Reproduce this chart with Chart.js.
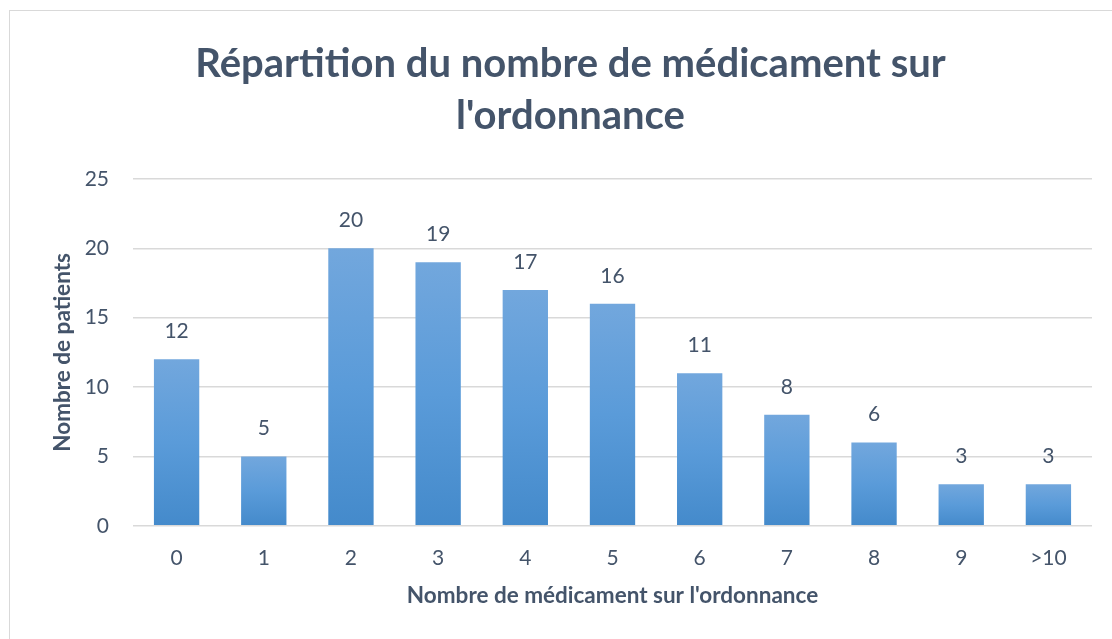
<!DOCTYPE html>
<html>
<head>
<meta charset="utf-8">
<script src="https://cdn.jsdelivr.net/npm/chart.js@4"></script>
<style>
  html, body { margin: 0; padding: 0; background: #fff; overflow: hidden; }
  #wrap { position: relative; width: 1112px; height: 639px; }
  #frame { position: absolute; left: 9px; top: 10px; width: 1120px; height: 700px; border: 1px solid #d9d9d9; box-sizing: border-box; }
  canvas { position: absolute; left: 0; top: 0; }
</style>
</head>
<body>
<div id="wrap">
  <div id="frame"></div>
  <canvas id="chart" width="1112" height="639"></canvas>
</div>
<script>
// chart data
const categories = ['0', '1', '2', '3', '4', '5', '6', '7', '8', '9', '>10'];
const patients = [12, 5, 20, 19, 17, 16, 11, 8, 6, 3, 3];
const yTicks = [0, 5, 10, 15, 20, 25];

const textColor = '#44546a';
const fontFamily = 'Lato, "Open Sans", sans-serif';

// draw the value over each bar
const valueLabels = {
  id: 'valueLabels',
  afterDatasetsDraw(chart) {
    const ctx = chart.ctx;
    const meta = chart.getDatasetMeta(0);
    ctx.save();
    ctx.fillStyle = textColor;
    ctx.font = '21px ' + fontFamily;
    ctx.textAlign = 'center';
    ctx.textBaseline = 'middle';
    meta.data.forEach((bar, i) => {
      ctx.fillText(patients[i], bar.x, bar.y - 28);
    });
    ctx.restore();
  }
};

function barGradient(context) {
  const chart = context.chart;
  const y = chart.scales.y;
  if (!chart.chartArea || !y || context.parsed === undefined) return '#5b9bd5';
  const top = y.getPixelForValue(context.parsed.y);
  const bottom = y.getPixelForValue(0);
  if (!isFinite(top) || !isFinite(bottom) || top === bottom) return '#5b9bd5';
  const g = chart.ctx.createLinearGradient(0, top, 0, bottom);
  g.addColorStop(0, '#72a7dd');
  g.addColorStop(0.5, '#5a9bd9');
  g.addColorStop(1, '#448acb');
  return g;
}

new Chart(document.getElementById('chart').getContext('2d'), {
  type: 'bar',
  data: {
    labels: categories,
    datasets: [{
      label: 'Nombre de patients',
      data: patients,
      backgroundColor: barGradient,
      borderWidth: 0,
      barPercentage: 0.52,
      categoryPercentage: 1
    }]
  },
  options: {
    responsive: false,
    animation: false,
    layout: { padding: { left: 49, right: 20, top: 38, bottom: 30 } },
    plugins: {
      legend: { display: false },
      tooltip: { enabled: false },
      title: {
        display: true,
        text: ['Répartition du nombre de médicament sur', "l'ordonnance"],
        color: textColor,
        font: { family: fontFamily, size: 40, weight: 'bold', lineHeight: 1.3 },
        padding: { top: 0, bottom: 37 }
      }
    },
    scales: {
      x: {
        grid: { display: false },
        border: { display: false },
        ticks: { color: textColor, font: { family: fontFamily, size: 21 }, padding: 12 },
        title: {
          display: true,
          text: "Nombre de médicament sur l'ordonnance",
          color: textColor,
          font: { family: fontFamily, size: 22.5, weight: 'bold' },
          padding: { top: -1, bottom: 0 }
        }
      },
      y: {
        min: 0,
        max: 25,
        afterBuildTicks(scale) { scale.ticks = yTicks.map(v => ({ value: v })); },
        afterFit(scale) { scale.width = 133 - 49; },
        grid: { color: '#d9d9d9', lineWidth: 1.5, drawTicks: false },
        border: { display: false },
        ticks: { color: textColor, font: { family: fontFamily, size: 21 }, padding: 24 },
        title: {
          display: true,
          text: 'Nombre de patients',
          color: textColor,
          font: { family: fontFamily, size: 22.5, weight: 'bold' },
          padding: { top: 0, bottom: 0 }
        }
      }
    }
  },
  plugins: [valueLabels]
});
</script>
</body>
</html>
